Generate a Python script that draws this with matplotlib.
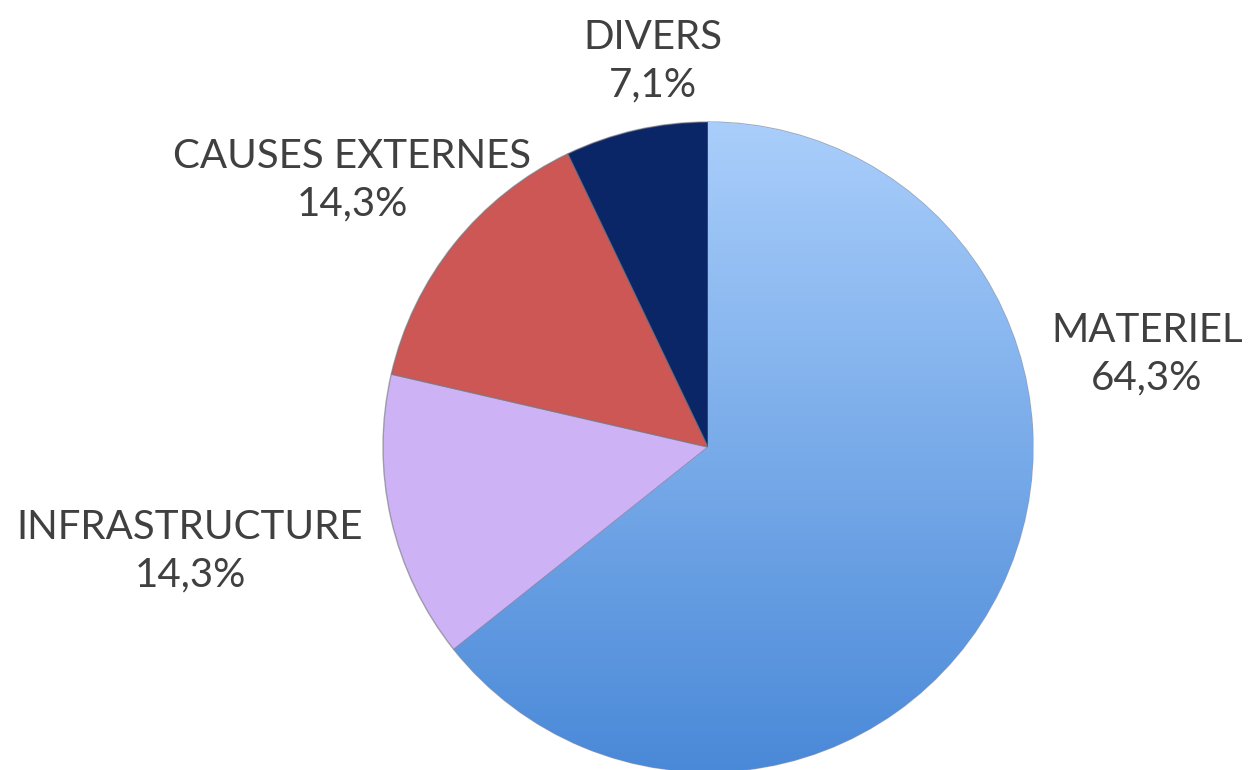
import matplotlib
matplotlib.use("Agg")
import matplotlib.pyplot as plt
import numpy as np
from matplotlib.colors import LinearSegmentedColormap

categories = ["MATERIEL", "INFRASTRUCTURE", "CAUSES EXTERNES", "DIVERS"]
values = [64.3, 14.3, 14.3, 7.1]
colors = ["#7fb0f0", "#cdb3f5", "#cd5755", "#0a2667"]

# label positions in pixel coords (x, y from top)
label_pos = [(1147, 354), (190, 551), (352, 180), (653, 61)]

W, H = 1248, 770
cx, cy, R = 708, 770 - 447, 325

plt.rcParams['font.family'] = ['Lato', 'DejaVu Sans']
fig = plt.figure(figsize=(W / 100, H / 100), dpi=100)
ax = fig.add_axes([0, 0, 1, 1])

wedges, _ = ax.pie(values, colors=colors, startangle=90, counterclock=False,
                   radius=R, center=(cx, cy),
                   wedgeprops=dict(edgecolor=(0.45, 0.45, 0.5, 0.6), linewidth=1.0))
ax.set_xlim(0, W)
ax.set_ylim(0, H)
ax.set_aspect("equal")
ax.axis("off")

# gradient for the first wedge
cmap = LinearSegmentedColormap.from_list("g", ["#4a89d8", "#a9cefb"])
grad = np.linspace(0, 1, 256).reshape(-1, 1)
im = ax.imshow(grad, cmap=cmap, origin="lower", aspect="auto",
               extent=(cx - R, cx + R, cy - R, cy + R), zorder=wedges[0].get_zorder() + 0.1)
im.set_clip_path(wedges[0])
ax.set_xlim(0, W)
ax.set_ylim(0, H)

for cat, val, (lx, ly) in zip(categories, values, label_pos):
    txt = f"{cat}\n{val:.1f}%".replace(".", ",")
    ax.text(lx, H - ly, txt, ha="center", va="center", fontsize=29,
            color="#404040", linespacing=1.35)

fig.savefig("out.png", dpi=100)
